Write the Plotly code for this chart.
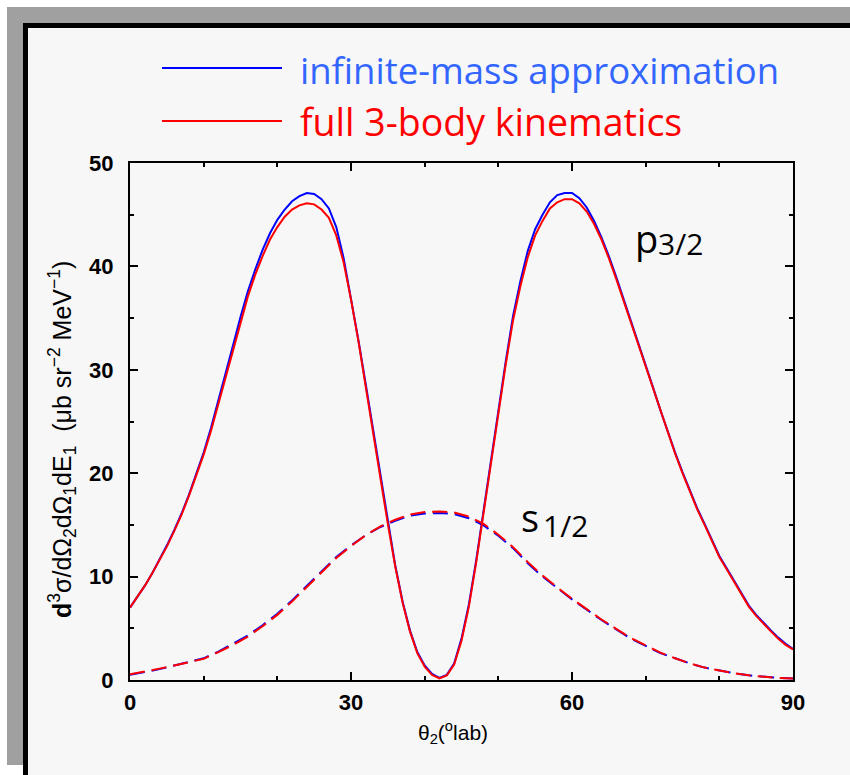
import plotly.graph_objects as go

# Scattering angle of particle 2 (degrees, lab frame)
theta = list(range(0, 91))

# p3/2 contribution, infinite-mass approximation
p32_inf = [
    7.0, 8.0, 9.1, 10.3, 11.6, 13.0, 14.5, 16.1, 17.9, 19.9,
    22.0, 24.4, 27.0, 29.7, 32.4, 35.1, 37.6, 39.7, 41.6, 43.2,
    44.5, 45.5, 46.3, 46.8, 47.1, 47.0, 46.5, 45.6, 43.8, 40.8,
    37.0, 32.9, 28.6, 24.2, 19.6, 15.2, 11.1, 7.6, 4.8, 2.7,
    1.4, 0.6, 0.2, 0.5, 1.6, 4.0, 7.3, 11.6, 16.4, 21.4,
    26.0, 30.8, 35.2, 38.6, 41.5, 43.6, 45.0, 46.2, 46.9, 47.1,
    47.1, 46.6, 45.7, 44.4, 42.8, 41.0, 39.0, 36.9, 34.8, 32.6,
    30.4, 28.3, 26.1, 24.0, 22.0, 20.1, 18.3, 16.6, 15.1, 13.6,
    12.0, 10.8, 9.6, 8.4, 7.2, 6.3, 5.5, 4.8, 4.1, 3.5,
    3.0,
]

# p3/2 contribution, full 3-body kinematics
p32_full = [
    7.0, 8.0, 9.1, 10.3, 11.6, 12.9, 14.4, 16.0, 17.8, 19.8,
    21.8, 24.1, 26.7, 29.4, 32.0, 34.7, 37.1, 39.2, 41.0, 42.6,
    43.8, 44.8, 45.5, 45.9, 46.1, 46.0, 45.5, 44.7, 43.0, 40.4,
    36.8, 32.8, 28.5, 24.1, 19.5, 15.1, 11.0, 7.5, 4.7, 2.6,
    1.3, 0.5, 0.15, 0.45, 1.5, 3.8, 7.1, 11.4, 16.2, 21.2,
    25.8, 30.5, 34.8, 38.1, 40.9, 43.0, 44.4, 45.6, 46.2, 46.5,
    46.5, 46.1, 45.3, 44.1, 42.6, 40.8, 38.8, 36.7, 34.6, 32.4,
    30.3, 28.2, 26.0, 23.9, 21.9, 20.0, 18.2, 16.5, 15.0, 13.5,
    11.9, 10.7, 9.5, 8.3, 7.1, 6.2, 5.4, 4.7, 4.0, 3.4,
    2.95,
]

# s1/2 contribution (2-degree steps)
theta_s = list(range(0, 91, 2))
s12_inf = [
    0.5, 0.75, 1.05, 1.4, 1.75, 2.1, 2.75, 3.5, 4.3, 5.3,
    6.4, 7.7, 9.1, 10.5, 11.9, 13.0, 14.0, 14.8, 15.4, 15.9,
    16.1, 16.15, 16.05, 15.65, 14.95, 13.95, 12.75, 11.3, 10.0, 8.9,
    7.8, 6.8, 5.8, 4.9, 4.0, 3.3, 2.6, 2.1, 1.6, 1.2,
    0.9, 0.65, 0.45, 0.3, 0.2, 0.15,
]
s12_full = [
    0.55, 0.8, 1.1, 1.4, 1.75, 2.05, 2.7, 3.4, 4.2, 5.2,
    6.3, 7.6, 9.0, 10.4, 11.8, 12.95, 14.0, 14.85, 15.5, 16.0,
    16.25, 16.3, 16.2, 15.8, 15.1, 14.05, 12.85, 11.4, 10.1, 8.95,
    7.85, 6.85, 5.85, 4.95, 4.05, 3.35, 2.65, 2.1, 1.6, 1.2,
    0.9, 0.65, 0.45, 0.3, 0.2, 0.15,
]

x_ticks = [0, 30, 60, 90]
y_ticks = [0, 10, 20, 30, 40, 50]

legend_inf = "infinite-mass approximation"
legend_full = "full 3-body kinematics"

BLUE = "#0000ff"
RED = "#ff0000"

# plot area in pixels
W, H = 850, 775
L, R, T, B = 130, 57, 163, 95
PW, PH = W - L - R, H - T - B


def px(x):
    return (x - L) / PW


def py(y):
    return (H - B - y) / PH


fig = go.Figure()
fig.add_trace(go.Scatter(x=theta_s, y=s12_inf, mode="lines",
                         line=dict(color=BLUE, width=2, dash="15px,7px"),
                         showlegend=False))
fig.add_trace(go.Scatter(x=theta, y=p32_inf, mode="lines",
                         line=dict(color=BLUE, width=2), showlegend=False))
fig.add_trace(go.Scatter(x=theta_s, y=s12_full, mode="lines",
                         line=dict(color=RED, width=2, dash="15px,7px"),
                         showlegend=False))
fig.add_trace(go.Scatter(x=theta, y=p32_full, mode="lines",
                         line=dict(color=RED, width=2), showlegend=False))

shapes = [
    # drop-shadow frame around the figure
    dict(type="rect", xref="paper", yref="paper", layer="below",
         x0=px(7), x1=px(870), y0=py(765), y1=py(7),
         fillcolor="#a0a0a0", line=dict(width=0)),
    dict(type="rect", xref="paper", yref="paper", layer="below",
         x0=px(23), x1=px(870), y0=py(800), y1=py(23),
         fillcolor="#000000", line=dict(width=0)),
    dict(type="rect", xref="paper", yref="paper", layer="below",
         x0=px(28), x1=px(870), y0=py(800), y1=py(28),
         fillcolor="#f7f7f7", line=dict(width=0)),
    # legend keys
    dict(type="line", xref="paper", yref="paper",
         x0=px(162), x1=px(282), y0=py(68), y1=py(68),
         line=dict(color=BLUE, width=2)),
    dict(type="line", xref="paper", yref="paper",
         x0=px(162), x1=px(282), y0=py(121), y1=py(121),
         line=dict(color=RED, width=2)),
]

LABEL_FONT = "Open Sans, sans-serif"
AX_FONT = "Liberation Sans, Arial, sans-serif"

annotations = [
    dict(text=legend_inf, x=px(298), y=py(70), xref="paper", yref="paper",
         xanchor="left", yanchor="middle", showarrow=False,
         font=dict(family=LABEL_FONT, size=36.5, color="#3366ff")),
    dict(text=legend_full, x=px(298), y=py(122), xref="paper", yref="paper",
         xanchor="left", yanchor="middle", showarrow=False,
         font=dict(family=LABEL_FONT, size=37.5, color=RED)),
    # curve labels
    dict(text="p", x=px(633), y=py(238), xref="paper", yref="paper",
         xanchor="left", yanchor="middle", showarrow=False,
         font=dict(family=LABEL_FONT, size=38, color="black")),
    dict(text="3/2", x=px(656), y=py(243), xref="paper", yref="paper",
         xanchor="left", yanchor="middle", showarrow=False,
         font=dict(family=LABEL_FONT, size=30, color="black")),
    dict(text="s", x=px(519), y=py(517), xref="paper", yref="paper",
         xanchor="left", yanchor="middle", showarrow=False,
         font=dict(family=LABEL_FONT, size=38, color="black")),
    dict(text="1/2", x=px(541), y=py(525), xref="paper", yref="paper",
         xanchor="left", yanchor="middle", showarrow=False,
         font=dict(family=LABEL_FONT, size=30, color="black")),
    # axis titles
    dict(text="θ<sub>2</sub>(<sup>o</sup>lab)", x=px(453), y=py(732),
         xref="paper", yref="paper", xanchor="center", yanchor="middle",
         showarrow=False, font=dict(family=AX_FONT, size=21, color="black")),
    dict(text="<b>d</b><sup>3</sup>σ/dΩ<sub>2</sub>dΩ<sub>1</sub>dE<sub>1</sub>"
              "  (μb sr<sup>−2</sup> MeV<sup>−1</sup>)",
         x=px(62), y=py(440), xref="paper", yref="paper", textangle=-90,
         xanchor="center", yanchor="middle", showarrow=False,
         font=dict(family=AX_FONT, size=25, color="black")),
]

axis_common = dict(
    showgrid=False, zeroline=False, showline=True, linecolor="black",
    linewidth=2, mirror="ticks", ticks="inside", ticklen=8, tickwidth=2,
    tickcolor="black",
    tickfont=dict(family=AX_FONT, size=22, color="black", weight="bold"),
)

fig.update_layout(
    width=W, height=H,
    margin=dict(l=L, r=R, t=T, b=B, pad=0),
    paper_bgcolor="white", plot_bgcolor="#f7f7f7",
    shapes=shapes, annotations=annotations,
    xaxis=dict(range=[0, 90], tickvals=x_ticks, ticklabelstandoff=2,
               minor=dict(dtick=10, tick0=0, ticks="inside", ticklen=4,
                          tickwidth=2, tickcolor="black"),
               **axis_common),
    yaxis=dict(range=[0, 50], tickvals=y_ticks, ticklabelstandoff=10,
               minor=dict(dtick=5, tick0=0, ticks="inside", ticklen=4,
                          tickwidth=2, tickcolor="black"),
               **axis_common),
)

fig.write_html("out.html")
